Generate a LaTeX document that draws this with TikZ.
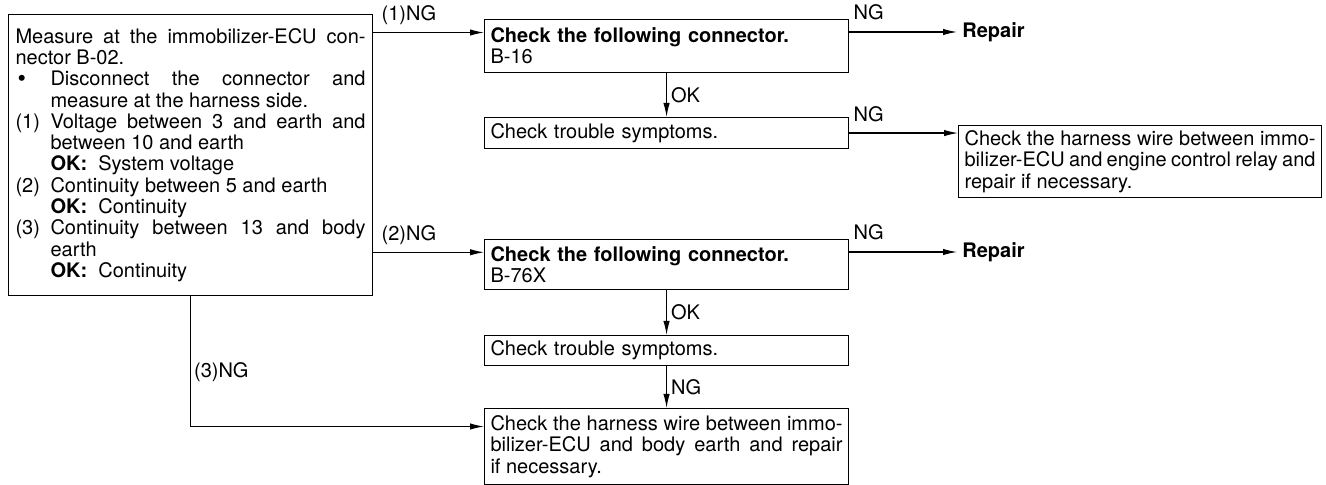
\documentclass[tikz,border=0pt]{standalone}
\usepackage{fontspec}
\setmainfont{TeX Gyre Heros}
\usetikzlibrary{arrows.meta, calc}

\newcommand{\fsz}{\fontsize{10}{10.65}\selectfont}
\newcommand{\hangitem}[1]{\hangindent=17.5pt\hangafter=1\noindent\makebox[17.5pt][l]{#1}}

\begin{document}
\begin{tikzpicture}[
    x=0.5pt, y=-0.5pt,
    box/.style={draw, line width=0.55pt, anchor=north west, font=\fsz,
                text width=176pt, inner xsep=3pt, inner ysep=0pt,
                minimum width=182pt, align=left},
    lbl/.style={font=\fsz, inner sep=0pt},
    rep/.style={font=\fsz\bfseries, inner xsep=2.5pt, inner ysep=0pt, anchor=west},
    conn/.style={line width=0.55pt, -{Latex[length=7pt, width=3.2pt]}}
]
\useasboundingbox (0,0) rectangle (1326,485);

% --- measurement at B-02 ---
\node[box, align=justify, text width=175pt, inner xsep=3.5pt,
      minimum height=140.5pt] (meas) at (8,14) {%
Measure at the immobilizer-ECU con-\linebreak nector B-02.\par
\hangitem{\hspace{1pt}{\fontsize{12}{12}\selectfont\bfseries\textbullet}}Disconnect the connector and\linebreak measure at the harness side.\par
\hangitem{(1)}Voltage between 3 and earth and\linebreak between 10 and earth\par
\hangitem{}\textbf{OK:}\ \ System voltage\par
\hangitem{(2)}Continuity between 5 and earth\par
\hangitem{}\textbf{OK:}\ \ Continuity\par
\hangitem{(3)}Continuity between 13 and body\linebreak earth\par
\hangitem{}\textbf{OK:}\ \ Continuity};

% --- branch (1) ---
\node[box, minimum height=26.5pt] (conn1) at (484,19)
    {\textbf{Check the following connector.}\\B-16};
\node[box, minimum height=15.5pt] (symp1) at (484,117) {Check trouble symptoms.};
\node[rep] (rep1) at (957,32) {Repair};
\node[box, align=justify, text width=175.5pt, minimum width=181.5pt,
      minimum height=36pt] (harn1) at (958,125) {%
Check the harness wire between immo-\linebreak
{\spaceskip=0.17em plus 0.3em minus 0.05em bilizer-ECU and engine control relay and}\linebreak
repair if necessary.};

% --- branch (2) ---
\node[box, minimum height=25pt] (conn2) at (484,239)
    {\textbf{Check the following connector.}\\B-76X};
\node[box, minimum height=15pt] (symp2) at (484,335) {Check trouble symptoms.};
\node[rep] (rep2) at (957,252) {Repair};

% --- branch (3) ---
\node[box, align=justify, minimum height=38pt] (harn2) at (484,408) {%
Check the harness wire between immo-\linebreak
bilizer-ECU and body earth and repair\linebreak if necessary.};

% entry points on the left edges
\coordinate (in1) at ($(conn1.north west)!0.25!(conn1.south west)$);
\coordinate (in2) at ($(conn2.north west)!0.26!(conn2.south west)$);
\coordinate (in3) at ($(harn2.north west)!0.24!(harn2.south west)$);

% connectors
\draw[conn] (meas.east |- in1) -- node[lbl, pos=0, anchor=base west, xshift=4pt, yshift=6pt] {(1)NG} (in1);
\draw[conn] (meas.east |- in2) -- node[lbl, pos=0, anchor=base west, xshift=4pt, yshift=6pt] {(2)NG} (in2);
\draw[conn] (meas.south) |- node[lbl, pos=0.29, anchor=west, xshift=1.5pt] {(3)NG} (in3);

\draw[conn] (conn1) -- node[lbl, anchor=west, xshift=2pt] {OK} (symp1);
\draw[conn] (conn1.east |- rep1.west) -- node[lbl, pos=0, anchor=base west, xshift=2pt, yshift=6pt] {NG} (rep1.west);
\draw[conn] (symp1.east) -- node[lbl, pos=0, anchor=base west, xshift=2pt, yshift=6pt] {NG} (symp1.east -| harn1.west);

\draw[conn] (conn2) -- node[lbl, anchor=west, xshift=2pt] {OK} (symp2);
\draw[conn] (conn2.east |- rep2.west) -- node[lbl, pos=0, anchor=base west, xshift=2pt, yshift=6pt] {NG} (rep2.west);
\draw[conn] (symp2) -- node[lbl, anchor=west, xshift=2pt] {NG} (harn2);

\end{tikzpicture}
\end{document}
